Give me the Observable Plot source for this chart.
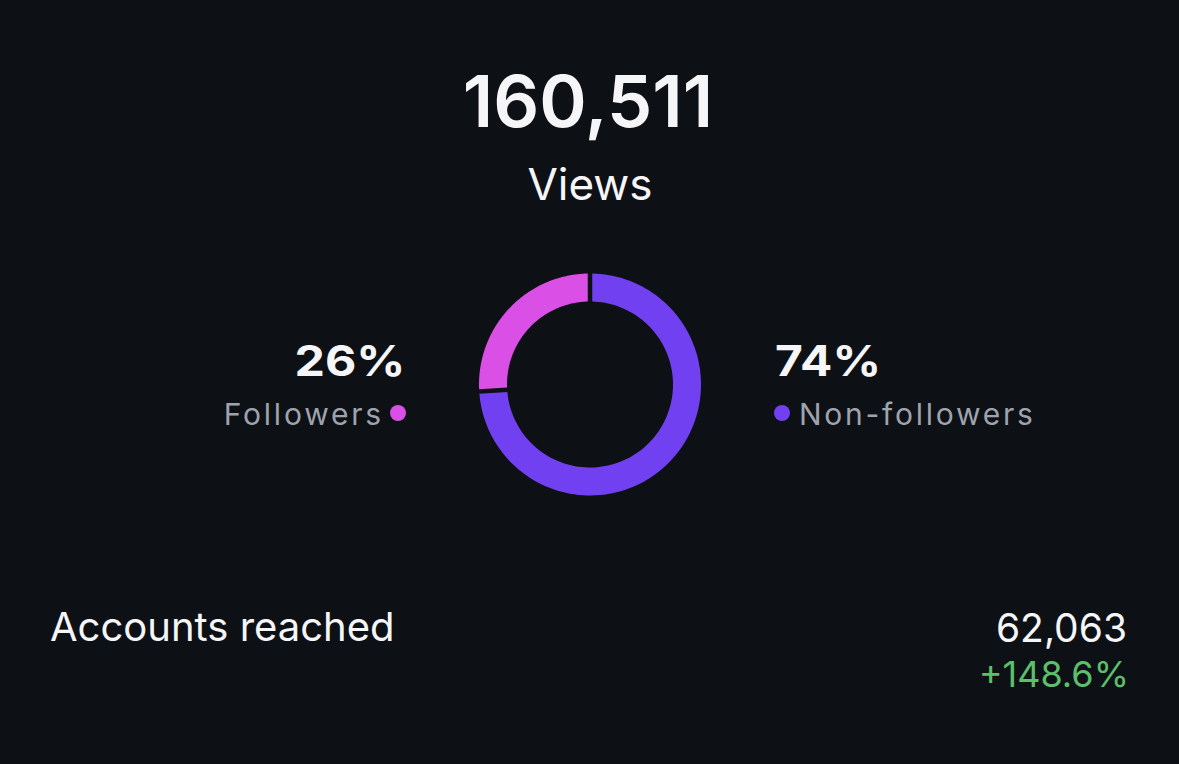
<!DOCTYPE html>
<html>
<head>
<meta charset="utf-8">
<script src="https://cdn.jsdelivr.net/npm/d3@7"></script>
<script src="https://cdn.jsdelivr.net/npm/@observablehq/plot@0.6"></script>
<style>
  html, body { margin: 0; padding: 0; background: #0d1015; }
  #page { position: relative; width: 1179px; height: 764px; background: #0d1015; overflow: hidden;
          font-family: Inter, "Noto Sans", sans-serif; color: #f6f6f8; }
  .t { position: absolute; line-height: 1; white-space: nowrap; }
  #chart { position: absolute; left: 0; top: 234px; }
  .dot { position: absolute; width: 16px; height: 16px; border-radius: 50%; }
</style>
</head>
<body>
<div id="page">
  <div id="views" class="t" style="left:0;width:1176px;text-align:center;top:65px;font-size:72px;font-weight:600;"></div>
  <div id="viewsLabel" class="t" style="left:0;width:1180px;text-align:center;top:162px;font-size:44px;font-weight:400;"></div>
  <div id="chart"></div>
  <div id="pctL" class="t" style="right:774px;top:340px;font-size:42px;font-weight:700;transform:scaleX(1.15);transform-origin:right center;"></div>
  <div id="nameL" class="t" style="right:795px;top:399px;font-size:30px;letter-spacing:2.8px;color:#9fa3ad;"></div>
  <div id="dotL" class="dot" style="left:390px;top:405px;"></div>
  <div id="pctR" class="t" style="left:775px;top:340px;font-size:42px;font-weight:700;transform:scaleX(1.14);transform-origin:left center;"></div>
  <div id="dotR" class="dot" style="left:774px;top:405px;"></div>
  <div id="nameR" class="t" style="left:799px;top:399px;font-size:30px;letter-spacing:2.75px;color:#9fa3ad;"></div>
  <div id="metric" class="t" style="left:50px;top:607px;font-size:40px;"></div>
  <div id="metricVal" class="t" style="right:52px;top:608px;font-size:39px;"></div>
  <div id="metricChg" class="t" style="right:50px;top:656px;font-size:36px;color:#5cbf69;"></div>
</div>
<script>
// ---- data ----
const totalViews = 160511;
const totalLabel = "Views";
const segmentNames = ["Non-followers", "Followers"];
const segmentShares = [74, 26];
const segmentColors = ["#7140f1", "#da4fe6"];
const metricName = "Accounts reached";
const metricValue = 62063;
const metricChange = 148.6;

// ---- text ----
const fmt = d3.format(",");
document.getElementById("views").textContent = fmt(totalViews);
document.getElementById("viewsLabel").textContent = totalLabel;
document.getElementById("pctL").textContent = segmentShares[1] + "%";
document.getElementById("nameL").textContent = segmentNames[1];
document.getElementById("dotL").style.background = segmentColors[1];
document.getElementById("pctR").textContent = segmentShares[0] + "%";
document.getElementById("nameR").textContent = segmentNames[0];
document.getElementById("dotR").style.background = segmentColors[0];
document.getElementById("metric").textContent = metricName;
document.getElementById("metricVal").textContent = fmt(metricValue);
document.getElementById("metricChg").textContent = (metricChange > 0 ? "+" : "") + metricChange.toFixed(1) + "%";

// ---- donut geometry (polygons built from the shares) ----
const rInner = 83, rOuter = 111, gap = 4.5, steps = 120;
const total = d3.sum(segmentShares);
const rows = [];
let cum = 0;
segmentShares.forEach((v, i) => {
  const f0 = cum / total, f1 = (cum + v) / total;
  cum += v;
  const ring = [];
  for (const [r, dir] of [[rOuter, 1], [rInner, -1]]) {
    const a0 = 2 * Math.PI * f0 + (gap / 2) / r;
    const a1 = 2 * Math.PI * f1 - (gap / 2) / r;
    for (let k = 0; k <= steps; k++) {
      const t = dir > 0 ? k / steps : 1 - k / steps;
      const a = a0 + (a1 - a0) * t;
      ring.push({name: segmentNames[i], x: r * Math.sin(a), y: r * Math.cos(a)});
    }
  }
  ring.push(ring[0]);
  rows.push(...ring);
});

const W = 1179, H = 300;
const plot = Plot.plot({
  width: W,
  height: H,
  margin: 0,
  style: {background: "transparent"},
  x: {domain: [-W / 2, W / 2], axis: null},
  y: {domain: [-H / 2, H / 2], axis: null},
  color: {domain: segmentNames, range: segmentColors},
  marks: [
    Plot.line(rows, {x: "x", y: "y", z: "name", fill: "name", stroke: "none", curve: "linear"})
  ]
});
document.getElementById("chart").appendChild(plot);
</script>
</body>
</html>
